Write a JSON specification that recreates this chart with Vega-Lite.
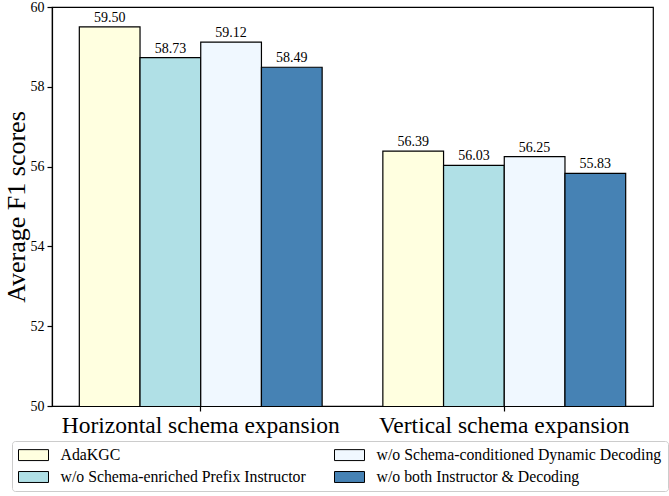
{
  "$schema": "https://vega.github.io/schema/vega-lite/v6.json",
  "width": 601,
  "height": 399,
  "autosize": {"type": "none"},
  "padding": {"left": 52, "top": 7, "right": 16, "bottom": 90},
  "background": "white",
  "data": {
    "values": [
      {"group": "Horizontal schema expansion", "variant": "AdaKGC", "value": 59.50},
      {"group": "Horizontal schema expansion", "variant": "w/o Schema-enriched Prefix Instructor", "value": 58.73},
      {"group": "Horizontal schema expansion", "variant": "w/o Schema-conditioned Dynamic Decoding", "value": 59.12},
      {"group": "Horizontal schema expansion", "variant": "w/o both Instructor & Decoding", "value": 58.49},
      {"group": "Vertical schema expansion", "variant": "AdaKGC", "value": 56.39},
      {"group": "Vertical schema expansion", "variant": "w/o Schema-enriched Prefix Instructor", "value": 56.03},
      {"group": "Vertical schema expansion", "variant": "w/o Schema-conditioned Dynamic Decoding", "value": 56.25},
      {"group": "Vertical schema expansion", "variant": "w/o both Instructor & Decoding", "value": 55.83}
    ]
  },
  "encoding": {
    "x": {
      "field": "group",
      "type": "nominal",
      "sort": ["Horizontal schema expansion", "Vertical schema expansion"],
      "scale": {"paddingInner": 0.2, "paddingOuter": 0.09},
      "axis": {"title": null, "labelAngle": 0, "labelFontSize": 23.5, "labelPadding": 2, "labelLimit": 0, "tickSize": 5}
    },
    "xOffset": {
      "field": "variant",
      "type": "nominal",
      "sort": ["AdaKGC", "w/o Schema-enriched Prefix Instructor", "w/o Schema-conditioned Dynamic Decoding", "w/o both Instructor & Decoding"],
      "scale": {"paddingInner": 0, "paddingOuter": 0}
    },
    "y": {
      "field": "value",
      "type": "quantitative",
      "scale": {"domain": [50, 60], "zero": false, "nice": false},
      "axis": {"title": "Average F1 scores", "values": [50, 52, 54, 56, 58, 60], "format": "d", "labelFontSize": 14, "labelPadding": 3, "titleFontSize": 26, "titleFontWeight": "normal", "titlePadding": 1, "tickSize": 5, "grid": false}
    }
  },
  "layer": [
    {
      "mark": {"type": "bar", "stroke": "black", "strokeWidth": 1.2, "clip": true},
      "encoding": {
        "color": {
          "field": "variant",
          "type": "nominal",
          "scale": {
            "domain": ["AdaKGC", "w/o Schema-conditioned Dynamic Decoding", "w/o Schema-enriched Prefix Instructor", "w/o both Instructor & Decoding"],
            "range": ["#ffffe0", "#f0f8ff", "#b0e0e6", "#4682b4"]
          },
          "legend": {
            "title": null,
            "orient": "none",
            "legendX": -40,
            "legendY": 434,
            "columns": 2,
            "direction": "horizontal",
            "columnPadding": 26,
            "rowPadding": 6,
            "labelFontSize": 15.8,
            "labelOffset": 19,
            "labelLimit": 0,
            "symbolType": "M-2,-0.73H2V0.73H-2Z",
            "symbolSize": 225,
            "symbolOffset": 7.5,
            "symbolStrokeColor": "black",
            "symbolStrokeWidth": 1,
            "symbolOpacity": 1,
            "strokeColor": "#cccccc",
            "fillColor": "white",
            "cornerRadius": 3,
            "padding": 6
          }
        }
      }
    },
    {
      "mark": {"type": "text", "baseline": "bottom", "dy": -2, "fontSize": 14, "font": "Liberation Serif", "color": "black"},
      "encoding": {
        "text": {"field": "value", "type": "quantitative", "format": ".2f"}
      }
    }
  ],
  "config": {
    "font": "Liberation Serif",
    "view": {"stroke": "black", "strokeWidth": 1.2},
    "axis": {"domainColor": "black", "tickColor": "black", "labelColor": "black", "titleColor": "black", "labelFont": "Liberation Serif", "titleFont": "Liberation Serif", "domainWidth": 1.2, "tickWidth": 1.2},
    "legend": {"labelFont": "Liberation Serif", "labelColor": "black"}
  }
}
